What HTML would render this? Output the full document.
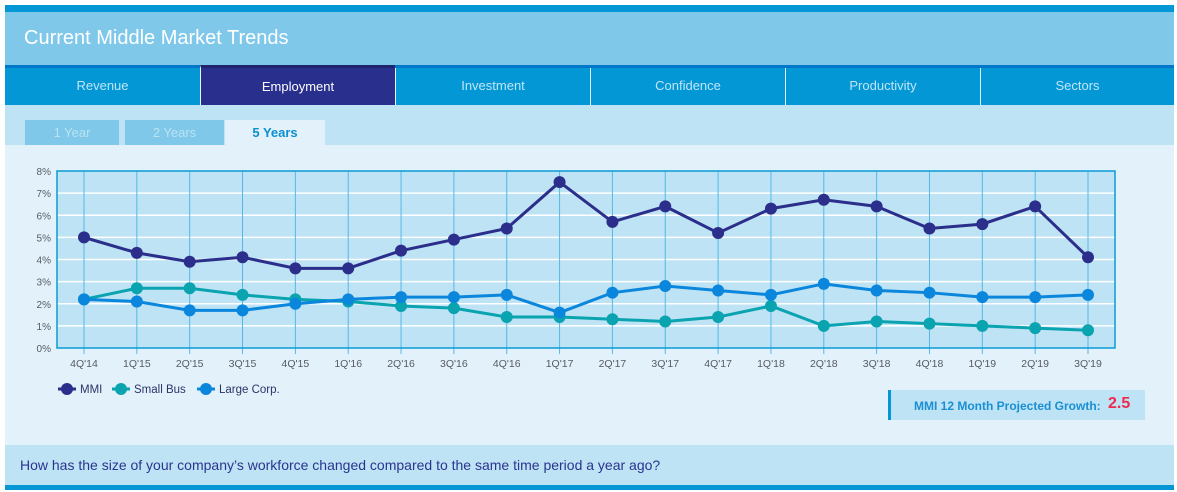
<!DOCTYPE html>
<html><head><meta charset="utf-8"><style>
body{margin:0;width:1177px;height:492px;background:#fff;font-family:"Liberation Sans",sans-serif;position:relative;overflow:hidden}
.abs{position:absolute}
.tab{position:absolute;top:68px;height:37px;line-height:35px;text-align:center;color:#bfe6f8;font-size:13px;background:#0497d6;border-left:1px solid #e8f6fd;box-sizing:border-box}
.st{position:absolute;top:120px;height:25px;line-height:25px;text-align:center;font-size:13px;color:#b9e3f4;background:#7fc8ea}
</style></head><body>
<div class="abs" style="left:5px;top:5px;width:1169px;height:7px;background:#0497d6"></div>
<div class="abs" style="left:5px;top:12px;width:1169px;height:53px;background:#7fc8ea"></div>
<div class="abs" style="left:24px;top:27px;color:#fff;font-size:20px">Current Middle Market Trends</div>
<div class="abs" style="left:5px;top:65px;width:1169px;height:3px;background:#0077c8"></div>
<div class="tab" style="left:5px;width:195px;border-left:none">Revenue</div>
<div class="tab" style="left:200px;width:195px;background:#292f8c;color:#fff;top:65px;height:40px;line-height:38px;border-top:3px solid #1f246e">Employment</div>
<div class="tab" style="left:395px;width:195px">Investment</div>
<div class="tab" style="left:590px;width:195px">Confidence</div>
<div class="tab" style="left:785px;width:195px">Productivity</div>
<div class="tab" style="left:980px;width:194px">Sectors</div>
<div class="abs" style="left:5px;top:105px;width:1169px;height:40px;background:#bde3f4"></div>
<div class="st" style="left:25px;width:94px">1 Year</div>
<div class="st" style="left:125px;width:99px">2 Years</div>
<div class="st" style="left:225px;width:100px;background:#e3f2fa;color:#0a8fd0;font-weight:bold">5 Years</div>
<div class="abs" style="left:5px;top:145px;width:1169px;height:300px;background:#e3f2fa"></div>
<svg class="abs" style="left:0;top:0" width="1177" height="492" id="chart"></svg>
<div class="abs" style="left:888px;top:390px;width:257px;height:30px;background:#bde3f4;border-left:3px solid #0497d6;box-sizing:border-box">
<span style="position:absolute;left:23px;top:9px;font-size:12px;font-weight:bold;color:#1a8fd3">MMI 12 Month Projected Growth:</span>
<span style="position:absolute;left:217px;top:5px;font-size:16px;font-weight:bold;color:#ee2a4f">2.5</span></div>
<div class="abs" style="left:5px;top:445px;width:1169px;height:40px;background:#bde3f4"></div>
<div class="abs" style="left:20px;top:457px;font-size:14px;color:#2b3490">How has the size of your company’s workforce changed compared to the same time period a year ago?</div>
<div class="abs" style="left:5px;top:485px;width:1169px;height:5px;background:#0497d6"></div>
<script>
const categories=["4Q'14","1Q'15","2Q'15","3Q'15","4Q'15","1Q'16","2Q'16","3Q'16","4Q'16","1Q'17","2Q'17","3Q'17","4Q'17","1Q'18","2Q'18","3Q'18","4Q'18","1Q'19","2Q'19","3Q'19"];
const mmi=[5.0,4.3,3.9,4.1,3.6,3.6,4.4,4.9,5.4,7.5,5.7,6.4,5.2,6.3,6.7,6.4,5.4,5.6,6.4,4.1];
const smallBus=[2.2,2.7,2.7,2.4,2.2,2.1,1.9,1.8,1.4,1.4,1.3,1.2,1.4,1.9,1.0,1.2,1.1,1.0,0.9,0.8];
const largeCorp=[2.2,2.1,1.7,1.7,2.0,2.2,2.3,2.3,2.4,1.6,2.5,2.8,2.6,2.4,2.9,2.6,2.5,2.3,2.3,2.4];
const yTicks=[0,1,2,3,4,5,6,7,8];
const svg=document.getElementById('chart');const NS='http://www.w3.org/2000/svg';
const L=57,R=1115,T=171,B=348,x0=84,x1=1088;
const xs=i=>x0+i*(x1-x0)/(categories.length-1);
const ys=v=>B-v*(B-T)/8;
function mk(t,a,p){const e=document.createElementNS(NS,t);for(const k in a)e.setAttribute(k,a[k]);(p||svg).appendChild(e);return e;}
let e=mk('rect',{x:L,y:T,width:R-L,height:B-T,fill:'#bee3f4'});


yTicks.forEach(v=>{if(v>0&&v<8){const g=mk('line',{x1:L,x2:R,y1:ys(v),y2:ys(v),stroke:'#fff','stroke-width':1.5});

}
const t=mk('text',{x:L-6,y:ys(v)+4,'text-anchor':'end','font-size':10,fill:'#555a66'});t.textContent=v+'%';

});
categories.forEach((c,i)=>{const g=mk('line',{x1:xs(i),x2:xs(i),y1:T,y2:B+6,stroke:'#55b8e6','stroke-width':1});


const t=mk('text',{x:xs(i),y:B+19,'text-anchor':'middle','font-size':10.5,fill:'#555a66'});t.textContent=c;

});
e=mk('path',{d:`M${L} ${T}H${R}V${B}H${L}Z`,fill:'none',stroke:'#0a9ad6','stroke-width':1.5});


const series=[[smallBus,'#0aa3b0','small-bus'],[largeCorp,'#0a86dc','large-corp'],[mmi,'#2b2e8a','mmi']];
series.forEach(([d,col,n])=>{const p=mk('polyline',{points:d.map((v,i)=>xs(i)+','+ys(v)).join(' '),fill:'none',stroke:col,'stroke-width':3});


d.forEach((v,i)=>{const c=mk('circle',{cx:xs(i),cy:ys(v),r:6,fill:col});

});});
const leg=[['MMI','#2b2e8a',58],['Small Bus','#0aa3b0',112],['Large Corp.','#0a86dc',197]];
leg.forEach(([l,col,x])=>{const g=mk('g',{});


mk('line',{x1:x,x2:x+18,y1:389,y2:389,stroke:col,'stroke-width':3},g);mk('circle',{cx:x+9,cy:389,r:6,fill:col},g);
const t=mk('text',{x:x+22,y:393,'font-size':11.5,fill:'#2b3468'},g);t.textContent=l;});
</script>
</body></html>
